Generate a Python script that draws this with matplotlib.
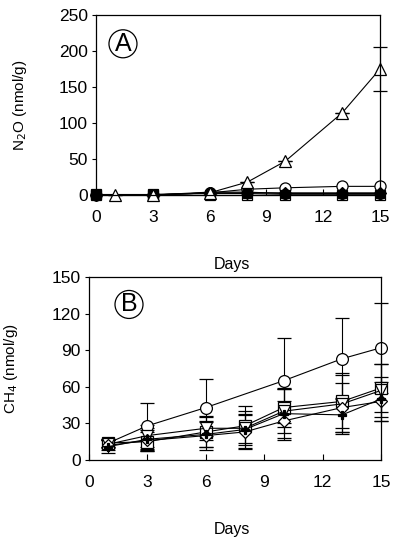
import matplotlib
matplotlib.use("Agg")
import matplotlib.pyplot as plt

plt.rcParams['font.family'] = ['Liberation Sans', 'DejaVu Sans']

# ---- Panel A data (N2O) ----
days_a = [0, 3, 6, 8, 10, 13, 15]
days_a_tri = [1, 3, 6, 8, 10, 13, 15]
a_circle = [0, 0, 3, 8, 10, 12, 12]
a_triangle = [0, 0, 3, 18, 47, 114, 175]
a_triangle_err = [0, 0, 0, 0, 0, 0, 30]
a_open_square = [0, 0, 0, 0, 0, 0, 0]
a_filled_square = [1, 1, 2, 2, 1, 1, 1]
a_filled_diamond = [0, 0, 3, 3, 3, 3, 3]
a_filled_circle = [0, 0, 4, 4, 2, 2, 2]

# ---- Panel B data (CH4) ----
days_b = [1, 3, 6, 8, 10, 13, 15]
b_square = [14, 15, 23, 28, 43, 48, 59]
b_square_err = [3, 8, 12, 16, 16, 22, 20]
b_invtri = [13, 20, 26, 26, 40, 46, 57]
b_invtri_err = [3, 9, 10, 12, 18, 25, 22]
b_diamond = [12, 16, 20, 23, 32, 43, 48]
b_diamond_err = [4, 9, 12, 14, 16, 20, 16]
b_star = [11, 17, 21, 25, 38, 37, 50]
b_star_err = [5, 9, 10, 15, 20, 14, 18]
# circle has no day-8 point in panel B
days_b_circle = [1, 3, 6, 10, 13, 15]
b_circle = [14, 28, 43, 65, 83, 92]
b_circle_err = [3, 19, 23, 35, 33, 37]

xticks = [0, 3, 6, 9, 12, 15]
yticks_a = [0, 50, 100, 150, 200, 250]
yticks_b = [0, 30, 60, 90, 120, 150]

fig = plt.figure(figsize=(4.0, 5.43), dpi=100)
W, H = 400, 543

def axes_px(l, t, r, b):
    return fig.add_axes([l / W, 1 - b / H, (r - l) / W, (b - t) / H])

axA = axes_px(96, 15, 380, 195)
axB = axes_px(89, 277, 381, 460)

lw = 0.8
base = dict(color='black', lw=lw, clip_on=False, mew=0.9)
eb = dict(capsize=5, elinewidth=lw, capthick=lw)

# Panel A
axA.plot(days_a, a_open_square, marker='s', ms=7.5, mfc='white', mec='black', **base)
axA.plot(days_a, a_circle, marker='o', ms=8, mfc='white', mec='black', **base)
axA.errorbar(days_a_tri, a_triangle, yerr=a_triangle_err, marker='^', ms=8.5, mfc='white',
             mec='black', **eb, **base)
axA.plot(days_a, a_filled_diamond, marker='D', ms=6.5, mfc='black', mec='black', **base)
axA.plot(days_a, a_filled_circle, marker='o', ms=7, mfc='black', mec='black', **base)
axA.plot(days_a[:2], a_filled_square[:2], marker='s', ms=7.5, mfc='black', mec='black', **base)
axA.plot(days_a[1:], a_filled_square[1:], marker='s', ms=6, mfc='black', mec='black', **base)

# Panel B
axB.errorbar(days_b_circle, b_circle, yerr=b_circle_err, marker='o', ms=8.5, mfc='white', mec='black', **eb, **base)
axB.errorbar(days_b, b_square, yerr=b_square_err, marker='s', ms=8, mfc='white', mec='black', **eb, **base)
axB.errorbar(days_b, b_invtri, yerr=b_invtri_err, marker='v', ms=8, mfc='white', mec='black', **eb, **base)
axB.errorbar(days_b, b_diamond, yerr=b_diamond_err, marker='D', ms=6.5, mfc='white', mec='black', **eb, **base)
axB.errorbar(days_b, b_star, yerr=b_star_err, marker='P', ms=6, mfc='black', mec='black', **eb, **base)

for ax, yt in [(axA, yticks_a), (axB, yticks_b)]:
    ax.set_xlim(0, 15)
    ax.set_ylim(yt[0], yt[-1])
    ax.set_xticks(xticks)
    ax.set_yticks(yt)
    ax.tick_params(axis='x', direction='in', length=4, pad=11, labelsize=12.5)
    ax.tick_params(axis='y', direction='out', length=3, pad=3, labelsize=12.5)
    for s in ax.spines.values():
        s.set_linewidth(0.9)

axA.text(0.095, 0.84, 'A', transform=axA.transAxes, fontsize=18, ha='center', va='center',
         bbox=dict(boxstyle='circle,pad=0.08', fc='white', ec='black', lw=0.9))
axB.text(0.137, 0.85, 'B', transform=axB.transAxes, fontsize=18, ha='center', va='center',
         bbox=dict(boxstyle='circle,pad=0.08', fc='white', ec='black', lw=0.9))

axA.set_xlabel('Days', fontsize=11.5)
axA.xaxis.set_label_coords(0.48, -0.345)
axB.set_xlabel('Days', fontsize=11.5)
axB.xaxis.set_label_coords(0.49, -0.34)
axA.set_ylabel('N$_2$O (nmol/g)', fontsize=11)
axA.yaxis.set_label_coords(-0.235, 0.5)
axB.set_ylabel('CH$_4$ (nmol/g)', fontsize=11)
axB.yaxis.set_label_coords(-0.235, 0.5)

fig.savefig('out.png', dpi=100)
